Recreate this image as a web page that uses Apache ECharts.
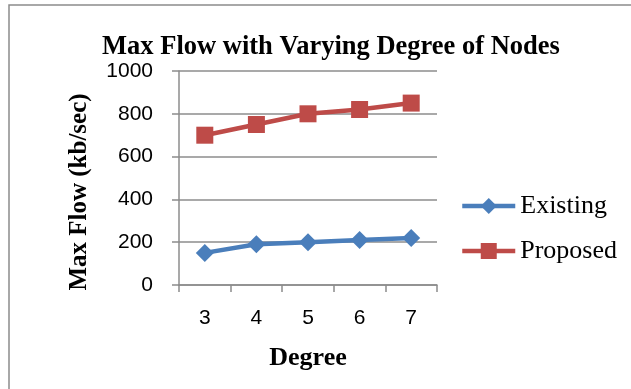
<!DOCTYPE html>
<html>
<head>
<meta charset="utf-8">
<script src="https://cdn.jsdelivr.net/npm/echarts@6/dist/echarts.min.js"></script>
<style>
  html, body { margin: 0; padding: 0; background: #fff; }
  #main { width: 631px; height: 389px; }
</style>
</head>
<body>
<div id="main"></div>
<script>
// degree of nodes
var degrees = ['3', '4', '5', '6', '7'];
// max flow, kb/sec
var existing = [150, 190, 200, 210, 220];
var proposed = [700, 750, 800, 820, 850];

var serif = '"Liberation Serif", "Times New Roman", serif';
var sans = '"Liberation Sans Narrow", "Liberation Sans", Arial, sans-serif';

var chart = echarts.init(document.getElementById('main'));
chart.setOption({
  animation: false,
  color: ['#4a7ebb', '#be4b48'],
  title: {
    text: 'Max Flow with Varying Degree of Nodes',
    left: 326,
    textAlign: 'center',
    top: 29,
    textStyle: { fontFamily: serif, fontWeight: 'bold', fontSize: 26.5, color: '#000' }
  },
  graphic: [{
    type: 'rect',
    shape: { x: 9, y: 5, width: 800, height: 600 },
    style: { fill: 'none', stroke: '#8c8c8c', lineWidth: 1.5 }
  }],
  legend: {
    orient: 'vertical',
    left: 455,
    top: 188,
    itemGap: 19,
    itemWidth: 53,
    itemHeight: 20,
    lineStyle: { width: 4.5 },
    data: ['Existing', 'Proposed'],
    textStyle: { fontFamily: serif, fontSize: 26, color: '#000' }
  },
  grid: { left: 179, right: 194, top: 71, bottom: 104 },
  xAxis: {
    type: 'category',
    data: degrees,
    boundaryGap: true,
    name: 'Degree',
    nameLocation: 'middle',
    nameGap: 60,
    nameTextStyle: { fontFamily: serif, fontWeight: 'bold', fontSize: 26, color: '#000' },
    axisLine: { lineStyle: { color: '#8c8c8c', width: 1.5 } },
    axisTick: { show: true, length: 7, lineStyle: { color: '#8c8c8c', width: 1.5 } },
    axisLabel: { margin: 23, fontFamily: sans, fontSize: 21, color: '#000' }
  },
  yAxis: {
    type: 'value',
    min: 0,
    max: 1000,
    interval: 200,
    name: 'Max Flow (kb/sec)',
    nameLocation: 'middle',
    nameRotate: 90,
    nameGap: 87,
    nameTextStyle: { fontFamily: serif, fontWeight: 'bold', fontSize: 25, color: '#000', padding: [0, 28, 0, 0] },
    axisLine: { show: true, lineStyle: { color: '#8c8c8c', width: 1.5 } },
    axisTick: { show: true, length: 7, lineStyle: { color: '#8c8c8c', width: 1.5 } },
    splitLine: { lineStyle: { color: '#8c8c8c', width: 1.5 } },
    axisLabel: {
      margin: 26, fontFamily: sans, fontSize: 21, color: '#000',
      formatter: function (v) { return String(v); }
    }
  },
  series: [{
    name: 'Existing',
    type: 'line',
    data: existing,
    symbol: 'diamond',
    symbolSize: 18,
    lineStyle: { width: 4.5 }
  }, {
    name: 'Proposed',
    type: 'line',
    data: proposed,
    symbol: 'rect',
    symbolSize: 17,
    lineStyle: { width: 4.5 }
  }]
});
</script>
</body>
</html>
